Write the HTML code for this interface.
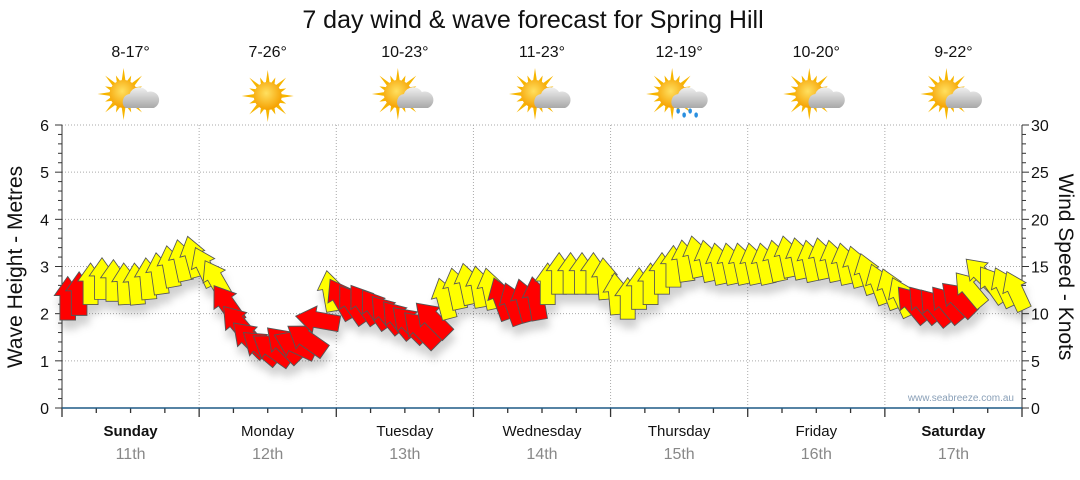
<!DOCTYPE html>
<html><head><meta charset="utf-8"><style>
body{margin:0;background:#fff;width:1080px;height:475px;overflow:hidden;font-family:"Liberation Sans",sans-serif}
</style></head><body>
<svg id="chart" width="1080" height="475" viewBox="0 0 1080 475" xmlns="http://www.w3.org/2000/svg">
<defs>
<filter id="sh" x="-50%" y="-50%" width="200%" height="200%"><feDropShadow dx="2" dy="9" stdDeviation="4" flood-color="#000" flood-opacity="0.18"/></filter>
<radialGradient id="sun" cx="0.45" cy="0.4" r="0.6"><stop offset="0" stop-color="#ffe060"/><stop offset="1" stop-color="#f5a000"/></radialGradient>
<linearGradient id="cloud" x1="0" y1="0" x2="0" y2="1"><stop offset="0" stop-color="#f0f0f0"/><stop offset="1" stop-color="#a8a8a8"/></linearGradient>
</defs>
<text x="533" y="28" font-size="25" text-anchor="middle" fill="#111">7 day wind &amp; wave forecast for Spring Hill</text>
<g id="grid"></g><g id="axes"></g><g id="icons"></g><g id="arrows" filter="url(#sh)"></g>
<text transform="translate(22,267) rotate(-90)" font-size="21" text-anchor="middle" fill="#111">Wave Height - Metres</text>
<text transform="translate(1059,267) rotate(90)" font-size="21" text-anchor="middle" fill="#111">Wind Speed - Knots</text>
<text x="1014" y="401" font-size="10" text-anchor="end" fill="#8aa0b8">www.seabreeze.com.au</text>
</svg>
<script>
const days=["Sunday","Monday","Tuesday","Wednesday","Thursday","Friday","Saturday"];
const dates=["11th","12th","13th","14th","15th","16th","17th"];
const temps=["8-17°","7-26°","10-23°","11-23°","12-19°","10-20°","9-22°"];
const weather=["cloud","sun","cloud","cloud","rain","cloud","cloud"];
const boldDays=[true,false,false,false,false,false,true];
const waveTicks=[0,1,2,3,4,5,6];
const windTicks=[0,5,10,15,20,25,30];
const heights=[2.29,2.39,2.6,2.71,2.67,2.6,2.6,2.71,2.82,2.97,3.1,3.18,
2.97,2.71,2.18,1.76,1.44,1.27,1.23,1.33,1.33,1.44,1.86,2.45,
2.29,2.18,2.18,2.08,1.97,1.86,1.76,1.65,1.86,2.29,2.5,2.6,
2.54,2.5,2.29,2.18,2.25,2.29,2.6,2.82,2.82,2.82,2.82,2.71,
2.39,2.29,2.5,2.6,2.82,2.97,3.09,3.18,3.09,3.03,3.03,3.03,
3.03,3.03,3.09,3.18,3.14,3.09,3.14,3.09,3.03,2.97,2.82,2.6,
2.5,2.33,2.18,2.18,2.12,2.18,2.29,2.5,2.82,2.6,2.54,2.46];
const directions=[0,0,0,0,0,-3,-5,-5,-8,-10,-12,-15,
-25,-30,-35,-40,-45,-50,-55,-45,-65,-55,-80,-10,
-30,-35,-35,-35,-40,-40,-45,-45,-45,-15,-12,-12,
-10,-12,-20,-20,-15,-10,0,0,0,0,0,-5,
-5,0,0,0,0,0,-8,-12,-12,-12,-12,-12,
-12,-12,-12,-12,-12,-12,-12,-12,-12,-15,-18,-20,
-20,-25,-40,-40,-40,-40,-45,-40,-45,-35,-25,-25];
const speeds=[16,16,13,13,13,13,13,13,13,13,13,13,
13,13,17,18,18,18,19,19,18,18,17,12,
17,17,18,18,18,18,19,19,18,13,13,13,
13,13,16,16,16,16,13,13,13,13,13,13,
13,13,13,13,13,13,13,13,13,13,13,13,
13,13,13,13,13,13,13,13,13,13,13,13,
13,13,16,16,16,16,16,13,13,13,13,13];
const X0=62,X1=1022,Y0=408,Y6=125;
const xs=h=>X0+(X1-X0)*h/168;
const ym=m=>Y0-(Y0-Y6)*m/6;
const yk=k=>Y0-(Y0-Y6)*k/30;
const NS="http://www.w3.org/2000/svg";
function mk(tag,attrs,parent){const e=document.createElementNS(NS,tag);for(const k in attrs)e.setAttribute(k,attrs[k]);parent.appendChild(e);return e;}
const grid=document.getElementById('grid'),axes=document.getElementById('axes'),icons=document.getElementById('icons'),arrows=document.getElementById('arrows');
waveTicks.forEach(v=>{if(v>0){const l=mk('line',{x1:X0,x2:X1,y1:ym(v),y2:ym(v),stroke:'#aaa','stroke-dasharray':'1,2'},grid);

}
const t=mk('text',{x:49,y:ym(v)+6,'font-size':16,'text-anchor':'end',fill:'#111'},axes);t.textContent=v;

});
windTicks.forEach(v=>{const t=mk('text',{x:1031,y:yk(v)+6,'font-size':16,fill:'#111'},axes);t.textContent=v;

});
for(let i=0;i<=30;i++){mk('line',{x1:X0-(i%5?4:7),x2:X0,y1:yk(i),y2:yk(i),stroke:'#333'},axes);mk('line',{x1:X1,x2:X1+(i%5?4:7),y1:yk(i),y2:yk(i),stroke:'#333'},axes);}
mk('line',{x1:X0,x2:X0,y1:Y6,y2:Y0,stroke:'#333'},axes);
mk('line',{x1:X1,x2:X1,y1:Y6,y2:Y0,stroke:'#333'},axes);
for(let d=1;d<7;d++){const l=mk('line',{x1:xs(d*24),x2:xs(d*24),y1:Y6,y2:Y0,stroke:'#aaa','stroke-dasharray':'1,2'},grid);

}
for(let h=0;h<=168;h+=6){mk('line',{x1:xs(h),x2:xs(h),y1:Y0,y2:Y0+(h%24?5:9),stroke:'#333','stroke-width':1.3},axes);}
mk('line',{x1:X0,x2:X1,y1:Y0,y2:Y0,stroke:'#1f5a86','stroke-width':1.5},axes);
days.forEach((d,i)=>{const cx=xs(i*24+12);
const t=mk('text',{x:cx,y:436,'font-size':15,'text-anchor':'middle',fill:'#111','font-weight':boldDays[i]?'bold':'normal'},axes);t.textContent=d;


const t2=mk('text',{x:cx,y:459,'font-size':16,'text-anchor':'middle',fill:'#888'},axes);t2.textContent=dates[i];


const t3=mk('text',{x:cx,y:57,'font-size':16,'text-anchor':'middle',fill:'#111'},icons);t3.textContent=temps[i];


const g=mk('g',{transform:`translate(${cx-3},96)`},icons);


const sx=weather[i]==='sun'?3:-4,sy=weather[i]==='sun'?0:-2;
for(let a=0;a<16;a++){const an=a*Math.PI/8,r1=13,r2=a%2?20:26;
mk('polygon',{points:`${sx+Math.cos(an-0.15)*r1},${sy+Math.sin(an-0.15)*r1} ${sx+Math.cos(an)*r2},${sy+Math.sin(an)*r2} ${sx+Math.cos(an+0.15)*r1},${sy+Math.sin(an+0.15)*r1}`,fill:'#f7b500'},g);}
mk('circle',{cx:sx,cy:sy,r:14,fill:'url(#sun)'},g);
if(weather[i]!=='sun'){mk('path',{d:'M-2,12 a8,8 0 0 1 4,-14 a10,10 0 0 1 18,-2 a8,8 0 0 1 6,16 z',fill:'url(#cloud)'},g);}
if(weather[i]==='rain'){for(let k=0;k<4;k++)mk('ellipse',{cx:2+k*6,cy:15+(k%2)*4,rx:1.8,ry:2.6,fill:'#2a8fe0'},g);}
});
const AR='M0,-21 L12,-4 L7,-4 L7,18 L-7,18 L-7,-4 L-12,-4 Z';
heights.forEach((h,i)=>{const x=xs(i*2+1),y=ym(h);const s=0.85+speeds[i]/60;
const p=mk('path',{d:AR,transform:`translate(${x},${y}) rotate(${directions[i]}) scale(${s})`,fill:speeds[i]>=15?'#ff0000':'#ffff00',stroke:'#555','stroke-width':0.8},arrows);

});
</script>
</body></html>
